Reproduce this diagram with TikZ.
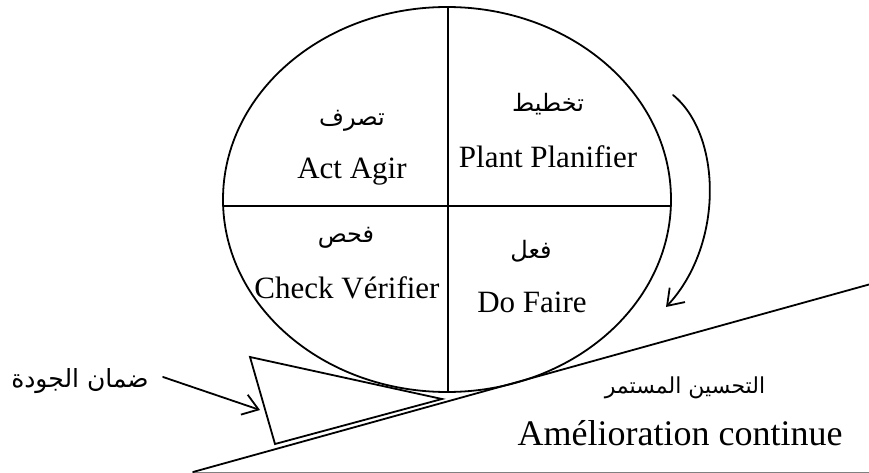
\documentclass[tikz,border=0pt]{standalone}
\usepackage{fontspec}
\setmainfont{Liberation Serif}
\newfontfamily\arabicfont[Script=Arabic]{DejaVu Sans}
\TeXXeTstate=1
\usetikzlibrary{arrows.meta}
\begin{document}
\begin{tikzpicture}[x=1pt,y=-1pt,
  stroke/.style={line width=1.8pt,line cap=round,line join=miter},
  latin/.style={inner sep=0pt,font=\fontsize{31}{31}\selectfont},
  arab/.style={inner sep=0pt,font=\arabicfont\fontsize{24}{24}\selectfont},
  openarrow/.style={stroke,-{Straight Barb[length=15pt,width=21pt,line width=1.8pt]}}]
\useasboundingbox (0,0) rectangle (869,473);

% PDCA wheel
\draw[stroke] (447,199.5) ellipse [x radius=224, y radius=192.5];
\coordinate (hl) at (223,206);
\coordinate (hr) at (671,206);
\coordinate (vt) at (448,7);
\coordinate (vb) at (448,391.5);
\draw[stroke] (hl) -- (hr);
\draw[stroke] (vt) -- (vb);

% Quadrant labels
\node[arab]  (actar)   at (352,121) {\beginR تصرف\endR};
\node[latin] (acten)   at (352,172) {Act Agir};
\node[arab]  (planar)  at (548,104) {\beginR تخطيط\endR};
\node[latin] (planen)  at (548,157) {Plant Planifier};
\node[arab]  (checkar) at (346,238) {\beginR فحص\endR};
\node[latin] (checken) at (347,288) {Check Vérifier};
\node[arab]  (doar)    at (531,251) {\beginR فعل\endR};
\node[latin] (doen)    at (532,302) {Do Faire};

% Rotation arrow
\coordinate (rotA) at (673,95);
\coordinate (rotB) at (666,307);
\draw[openarrow] (rotA) .. controls (722,135) and (724,245) .. (rotB);

% Slope and its base
\coordinate (slopeL) at (193,472);
\coordinate (slopeR) at (869,284.5);
\coordinate (baseR) at (869,472);
\draw[gray,line width=1pt] (slopeL) -- (baseR);
\draw[stroke] (slopeL) -- (slopeR);

% Wedge holding the wheel
\coordinate (wA) at (250,357);
\coordinate (wB) at (442,399);
\coordinate (wC) at (275,444);
\draw[stroke] (wA) -- (wB) -- (wC) -- cycle;

% Quality assurance label
\node[arab,font=\arabicfont\fontsize{25}{25}\selectfont] (qa) at (80,381) {\beginR ضمان الجودة\endR};
\coordinate (qaTip) at (260,410);
\draw[openarrow] (163,377) -- (qaTip);

% Continuous improvement labels
\node[arab,font=\arabicfont\fontsize{22}{22}\selectfont] (ciar) at (685,388) {\beginR التحسين المستمر\endR};
\node[inner sep=0pt,font=\fontsize{36}{36}\selectfont] (cien) at (680,433) {Amélioration continue};
\end{tikzpicture}
\end{document}
